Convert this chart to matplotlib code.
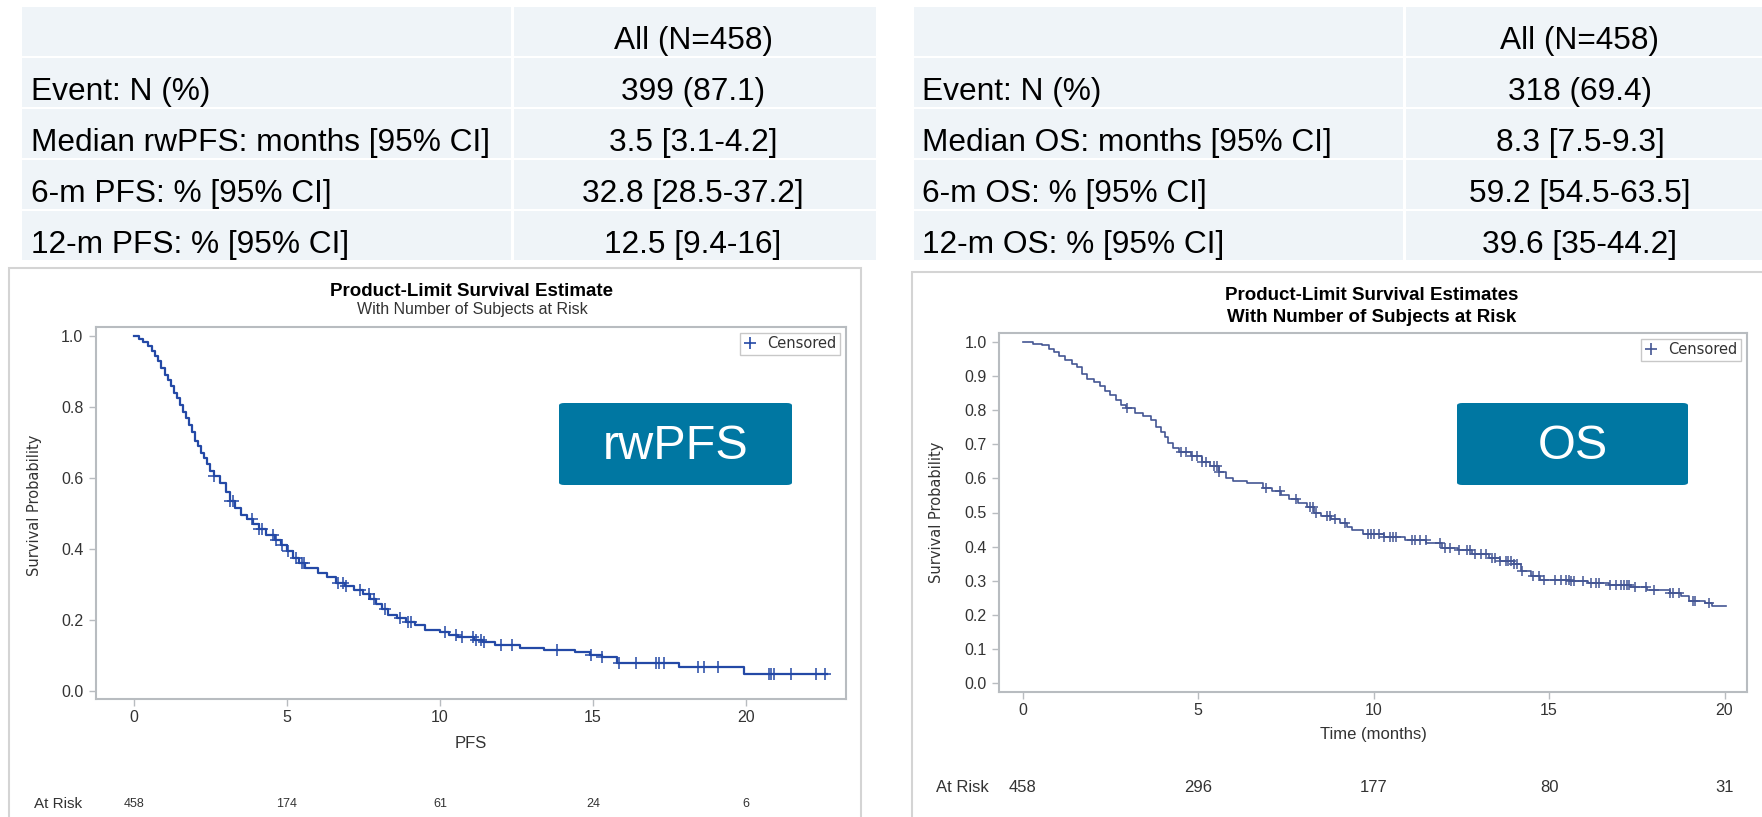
import numpy as np
import matplotlib
matplotlib.use("Agg")
import matplotlib.pyplot as plt
from matplotlib.patches import Rectangle, FancyBboxPatch
from matplotlib.lines import Line2D
from matplotlib.transforms import blended_transform_factory

plt.rcParams['font.family'] = ['Liberation Sans', 'DejaVu Sans']

W, H = 1762, 817

# ---------------- data ----------------
table_header = "All (N=458)"
pfs_row_labels = ["Event: N (%)", "Median rwPFS: months [95% CI]",
                  "6-m PFS: % [95% CI]", "12-m PFS: % [95% CI]"]
pfs_row_values = ["399 (87.1)", "3.5 [3.1-4.2]", "32.8 [28.5-37.2]", "12.5 [9.4-16]"]
os_row_labels = ["Event: N (%)", "Median OS: months [95% CI]",
                 "6-m OS: % [95% CI]", "12-m OS: % [95% CI]"]
os_row_values = ["318 (69.4)", "8.3 [7.5-9.3]", "59.2 [54.5-63.5]", "39.6 [35-44.2]"]

pfs_time = [0, 0.15, 0.3, 0.45, 0.6, 0.7, 0.8, 0.9, 1.0, 1.1, 1.2, 1.3, 1.4, 1.5, 1.6,
            1.7, 1.8, 1.9, 2.0, 2.1, 2.2, 2.3, 2.4, 2.5, 2.6, 2.8, 3.0, 3.15, 3.3, 3.5,
            3.7, 3.9, 4.1, 4.3, 4.6, 4.8, 5.0, 5.2, 5.4, 5.6, 6.0, 6.3, 6.6, 6.9, 7.2,
            7.5, 7.7, 7.9, 8.1, 8.3, 8.6, 8.9, 9.2, 9.5, 10.0, 10.3, 10.6, 11.1, 11.4,
            11.8, 12.6, 13.4, 14.4, 14.9, 15.3, 15.8, 17.8, 19.95, 22.65]
pfs_surv = [1.0, 0.991, 0.982, 0.972, 0.958, 0.942, 0.93, 0.91, 0.89, 0.875, 0.86, 0.84,
            0.825, 0.805, 0.785, 0.77, 0.75, 0.73, 0.705, 0.69, 0.67, 0.655, 0.64, 0.62,
            0.605, 0.585, 0.56, 0.535, 0.515, 0.495, 0.485, 0.47, 0.455, 0.44, 0.425,
            0.41, 0.395, 0.375, 0.36, 0.345, 0.333, 0.32, 0.305, 0.295, 0.285, 0.272,
            0.26, 0.245, 0.23, 0.215, 0.205, 0.195, 0.185, 0.173, 0.165, 0.157, 0.152,
            0.145, 0.138, 0.129, 0.12, 0.115, 0.11, 0.102, 0.095, 0.08, 0.069, 0.049, 0.049]
pfs_censor = [2.6, 3.15, 3.25, 3.85, 4.1, 4.2, 4.55, 4.65, 4.85, 5.05, 5.28, 5.5, 5.56,
              6.66, 6.84, 6.94, 7.4, 7.67, 7.86, 8.22, 8.68, 8.96, 9.05, 10.16, 10.52,
              10.71, 11.08, 11.17, 11.35, 11.44, 12.0, 12.36, 13.84, 14.94, 15.31, 15.86,
              16.41, 17.06, 17.15, 17.33, 18.44, 18.62, 19.08, 20.74, 20.83, 20.92, 21.47,
              22.3, 22.58]

os_time = [0, 0.3, 0.55, 0.75, 0.9, 1.05, 1.2, 1.4, 1.55, 1.7, 1.85, 2.05, 2.2, 2.35, 2.5,
           2.65, 2.8, 2.95, 3.2, 3.42, 3.65, 3.8, 3.95, 4.05, 4.15, 4.3, 4.45, 4.8, 5.1,
           5.35, 5.6, 5.8, 6.0, 6.4, 6.85, 7.1, 7.35, 7.6, 7.85, 8.1, 8.3, 8.5, 8.8, 9.05,
           9.25, 9.4, 9.7, 10.3, 10.9, 11.5, 11.95, 12.4, 12.8, 13.3, 13.6, 14.0, 14.2,
           14.5, 14.75, 15.6, 16.1, 16.7, 17.3, 17.8, 18.45, 18.75, 19.0, 19.45, 19.65, 20.05]
os_surv = [1.0, 0.995, 0.99, 0.98, 0.97, 0.96, 0.948, 0.935, 0.925, 0.905, 0.89, 0.882,
           0.87, 0.857, 0.845, 0.83, 0.815, 0.805, 0.792, 0.782, 0.77, 0.75, 0.735, 0.72,
           0.705, 0.69, 0.678, 0.665, 0.648, 0.635, 0.618, 0.6, 0.592, 0.585, 0.572, 0.562,
           0.552, 0.54, 0.528, 0.515, 0.498, 0.49, 0.48, 0.47, 0.458, 0.448, 0.437, 0.428,
           0.42, 0.41, 0.397, 0.39, 0.378, 0.368, 0.358, 0.348, 0.33, 0.315, 0.302, 0.298,
           0.293, 0.288, 0.281, 0.272, 0.264, 0.254, 0.242, 0.234, 0.226, 0.226]
os_censor = [2.98, 4.51, 4.67, 4.83, 4.98, 5.1, 5.22, 5.45, 5.53, 5.6, 6.94, 7.34, 7.8,
             8.2, 8.28, 8.36, 8.67, 8.75, 8.9, 9.2, 9.84, 9.92, 10.0, 10.16, 10.31, 10.47,
             10.55, 10.63, 11.1, 11.18, 11.33, 11.49, 11.88, 12.04, 12.19, 12.43, 12.66,
             12.74, 12.9, 13.06, 13.21, 13.37, 13.45, 13.6, 13.76, 13.84, 13.92, 14.0,
             14.08, 14.23, 14.55, 14.7, 14.86, 15.17, 15.33, 15.49, 15.56, 15.64, 15.72,
             15.96, 16.19, 16.35, 16.43, 16.74, 16.9, 17.05, 17.13, 17.21, 17.29, 17.45,
             17.76, 18.0, 18.46, 18.54, 18.7, 19.09, 19.17, 19.56]

at_risk_times = [0, 5, 10, 15, 20]
pfs_at_risk = [458, 174, 61, 24, 6]
os_at_risk = [458, 296, 177, 80, 31]

# ---------------- helpers ----------------
def fx(px):
    return px / W


def fy(py):
    return 1 - py / H


fig = plt.figure(figsize=(W / 100, H / 100), dpi=100)
fig.patch.set_facecolor('white')

CELL = '#EFF4F8'
TABLE_FS = 22.8


def draw_table(x0, xdiv, x1, labels, values, label_x, value_cx):
    rows = [""] + labels
    vals = [table_header] + values
    for i in range(5):
        top = 7 + 51 * i
        fig.add_artist(Rectangle((fx(x0), fy(top + 49)), fx(xdiv - x0), 49 / H,
                                 transform=fig.transFigure, facecolor=CELL,
                                 edgecolor='none', zorder=0))
        fig.add_artist(Rectangle((fx(xdiv + 3), fy(top + 49)), fx(x1 - xdiv - 3), 49 / H,
                                 transform=fig.transFigure, facecolor=CELL,
                                 edgecolor='none', zorder=0))
        base = top + 42
        if rows[i]:
            fig.text(fx(label_x), fy(base), rows[i], ha='left', va='baseline',
                     fontsize=TABLE_FS, color='black')
        fig.text(fx(value_cx), fy(base), vals[i], ha='center', va='baseline',
                 fontsize=TABLE_FS, color='black')


draw_table(22, 511, 876, pfs_row_labels, pfs_row_values, 31, 693)
draw_table(914, 1403, 1770, os_row_labels, os_row_values, 922, 1580)

# panel borders
fig.add_artist(Rectangle((fx(9), fy(830)), fx(861 - 9), (830 - 268) / H,
                         transform=fig.transFigure, fill=False, edgecolor='#D4D4D4', lw=1.5))
fig.add_artist(Rectangle((fx(912), fy(830)), fx(1775 - 912), (830 - 272) / H,
                         transform=fig.transFigure, fill=False, edgecolor='#D4D4D4', lw=1.5))

TXT = '#333333'
FRAME = '#B8BCC0'


def km_axes(rect, xlim, ylim, yticks, time, surv, censor, color, lw, ms, at_risk,
            at_risk_y, risk_label_x, risk_fs, num_fs, xlabel, xlabel_y, ticklab_fs):
    ax = fig.add_axes(rect)
    t = np.asarray(time)
    s = np.asarray(surv)
    ax.step(t, s, where='post', color=color, lw=lw, zorder=3)
    c = np.asarray(censor)
    idx = np.searchsorted(t, c, side='right') - 1
    ax.plot(c, s[idx], ls='none', marker='+', color=color, markersize=ms,
            markeredgewidth=1.1, zorder=4)
    ax.set_xlim(*xlim)
    ax.set_ylim(*ylim)
    ax.set_xticks(at_risk_times)
    ax.set_xticklabels([str(v) for v in at_risk_times])
    ax.set_yticks(yticks)
    ax.set_yticklabels(['%.1f' % v for v in yticks])
    for sp in ax.spines.values():
        sp.set_color(FRAME)
        sp.set_linewidth(1.5)
    ax.tick_params(axis='both', direction='out', length=5, width=1, color=FRAME,
                   labelcolor=TXT, labelsize=ticklab_fs, pad=3)
    ax.tick_params(axis='y', pad=4)
    tr = blended_transform_factory(ax.transData, fig.transFigure)
    for tt, n in zip(at_risk_times, at_risk):
        ax.text(tt, fy(at_risk_y), str(n), transform=tr, ha='center', va='center',
                fontsize=num_fs, color=TXT)
    fig.text(fx(risk_label_x), fy(at_risk_y), 'At Risk', ha='left', va='center',
             fontsize=risk_fs, color=TXT)
    x_center = rect[0] + rect[2] / 2
    fig.text(x_center, fy(xlabel_y), xlabel, ha='center', va='center',
             fontsize=12, color=TXT)
    leg = ax.legend(handles=[Line2D([], [], ls='none', marker='+', color=color,
                                    markersize=8, markeredgewidth=1.2)],
                    labels=['Censored'], loc='upper right', bbox_to_anchor=(1, 1),
                    borderaxespad=0.4, handlelength=0.8, handletextpad=0.8,
                    borderpad=0.25, fancybox=False, framealpha=1,
                    prop={'family': 'DejaVu Sans', 'size': 10.5})
    leg.get_frame().set_edgecolor('#C8C8C8')
    leg.get_frame().set_linewidth(1.0)
    for txt in leg.get_texts():
        txt.set_color(TXT)
    return ax


# Left: rwPFS
ax1 = km_axes([fx(96), fy(699), fx(846 - 96), (699 - 327) / H],
              (-1.24, 23.27), (-0.0225, 1.025), [0.0, 0.2, 0.4, 0.6, 0.8, 1.0],
              pfs_time, pfs_surv, pfs_censor, '#2449A6', 1.6, 8.5,
              pfs_at_risk, 804, 34, 11, 9, 'PFS', 743, 11.5)
# Right: OS
ax2 = km_axes([fx(999), fy(692), fx(1747 - 999), (692 - 333) / H],
              (-0.67, 20.64), (-0.026, 1.026), [i / 10 for i in range(11)],
              os_time, os_surv, os_censor, '#445694', 1.2, 7.5,
              os_at_risk, 787, 936, 12, 12, 'Time (months)', 735, 11.5)

# titles
fig.text(fx(472), fy(291), 'Product-Limit Survival Estimate', ha='center', va='center',
         fontsize=13.5, weight='bold', color='black')
fig.text(fx(472), fy(309), 'With Number of Subjects at Risk', ha='center', va='center',
         fontsize=11.5, color=TXT)
fig.text(fx(1372), fy(296), 'Product-Limit Survival Estimates', ha='center', va='center',
         fontsize=13.5, weight='bold', color='black')
fig.text(fx(1372), fy(317), 'With Number of Subjects at Risk', ha='center', va='center',
         fontsize=13.5, weight='bold', color='black')

# y labels
fig.text(fx(35), fy(505), 'Survival Probability', rotation=90, ha='center', va='center',
         fontsize=10.5, family='DejaVu Sans', color=TXT)
fig.text(fx(937), fy(512), 'Survival Probability', rotation=90, ha='center', va='center',
         fontsize=10.5, family='DejaVu Sans', color=TXT)

# labelled boxes
BOX = '#0077A2'
for (x0, x1, label) in [(559, 792, 'rwPFS'), (1457, 1688, 'OS')]:
    fig.add_artist(FancyBboxPatch((fx(x0), fy(485)), fx(x1 - x0), (485 - 403) / H,
                                  boxstyle='round,pad=0,rounding_size=0.003',
                                  transform=fig.transFigure, facecolor=BOX,
                                  edgecolor='none', zorder=5))
    fig.text(fx((x0 + x1) / 2), fy(446), label, ha='center', va='center',
             fontsize=35, color='white', zorder=6)

fig.savefig('out.png', dpi=100)
